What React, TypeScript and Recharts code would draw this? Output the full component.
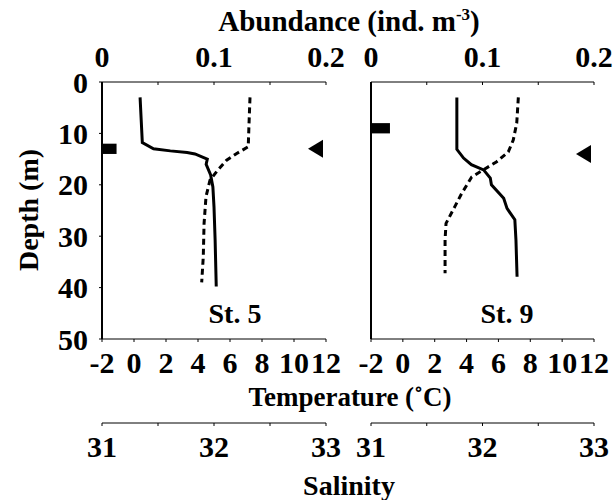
import React from "react"
import { ComposedChart, Scatter, XAxis, YAxis, ReferenceArea } from "recharts"

// St. 5 profiles
const st5TempDepth = [3, 8, 12.6, 13.9, 15.2, 17.4, 19.1, 22.3, 27.5, 34, 39]
const st5Temp = [7.25, 7.19, 7.14, 6.42, 5.79, 5.17, 4.75, 4.5, 4.38, 4.33, 4.23]
const st5SalDepth = [3, 7.4, 11.8, 13.0, 13.4, 13.7, 14.0, 15.0, 16.0, 18.1, 20.4, 24.3, 30.7, 39.8]
const st5Sal = [31.34, 31.35, 31.36, 31.46, 31.61, 31.76, 31.83, 31.94, 31.93, 31.97, 31.99, 32.0, 32.01, 32.02]

// St. 9 profiles
const st9TempDepth = [3, 8, 11.3, 13.6, 15.5, 17.1, 18.5, 21.7, 24.2, 27.5, 30.7, 37.2]
const st9Temp = [7.25, 7.15, 6.93, 6.62, 5.89, 5.05, 4.32, 3.69, 3.27, 2.71, 2.65, 2.65]
const st9SalDepth = [3, 8, 13.1, 14.8, 16.1, 17.1, 18.7, 20.0, 22.6, 24.6, 26.8, 30.7, 37.9]
const st9Sal = [31.77, 31.77, 31.77, 31.83, 31.9, 32.01, 32.07, 32.08, 32.19, 32.22, 32.29, 32.3, 32.31]

// abundance by depth layer, and thermocline depth (triangle)
const stations = ["St. 5", "St. 9"]
const abundance = [0.013, 0.017]
const layerTop = [12, 8]
const layerBottom = [14, 10]
const clineDepth = [13, 14]

const depthTicks = [0, 10, 20, 30, 40, 50]
const tempTicks = [-2, 0, 2, 4, 6, 8, 10, 12]
const salTicks = [31, 31.5, 32, 32.5, 33]
const abTicks = [0, 0.05, 0.1, 0.15, 0.2]

const FONT = "Liberation Serif, 'Times New Roman', serif"
const tickFont = { fill: "#000", fontSize: 30, fontWeight: 700, fontFamily: FONT }

const toPoints = (depths: number[], vals: number[], key: string) =>
  depths.map((d, i) => ({ depth: d, [key]: vals[i] }))

const noDot = () => <g />

const Triangle = (props: any) => {
  const { cx, cy } = props
  return <polygon points={`${cx - 18},${cy} ${cx - 3},${cy - 9} ${cx - 3},${cy + 9}`} fill="#000" />
}

type PanelProps = {
  idx: number
  temp: any[]
  sal: any[]
  showDepthLabels: boolean
  left: number
  width: number
  yAxisWidth: number
  marginLeft: number
  marginRight: number
}

const Panel = (p: PanelProps) => (
  <div style={{ position: "absolute", left: p.left, top: 0 }}>
    <ComposedChart
      width={p.width}
      height={463}
      margin={{ top: 0, right: p.marginRight, bottom: 0, left: p.marginLeft }}
    >
      <XAxis
        xAxisId={0}
        orientation="top"
        type="number"
        dataKey="ab"
        domain={[0, 0.2]}
        allowDataOverflow
        ticks={abTicks}
        interval={0}
        tickFormatter={(v: number) => (v === 0.05 || v === 0.15 ? "" : String(v))}
        height={82}
        tickSize={-3}
        tickMargin={18}
        tick={tickFont}
        axisLine={{ stroke: "#000" }}
        tickLine={{ stroke: "#000" }}
      />
      <XAxis
        xAxisId={1}
        orientation="bottom"
        type="number"
        dataKey="temp"
        domain={[-2, 12]}
        allowDataOverflow
        ticks={tempTicks}
        interval={0}
        height={84}
        tickSize={3}
        tickMargin={10}
        tick={tickFont}
        axisLine={{ stroke: "#000" }}
        tickLine={{ stroke: "#000" }}
      />
      <XAxis
        xAxisId={2}
        orientation="bottom"
        type="number"
        dataKey="sal"
        domain={[31, 33]}
        allowDataOverflow
        ticks={salTicks}
        interval={0}
        tickFormatter={(v: number) => (Number.isInteger(v) ? String(v) : "")}
        height={40}
        tickSize={3}
        tickMargin={10}
        tick={tickFont}
        axisLine={{ stroke: "#000" }}
        tickLine={{ stroke: "#000" }}
      />
      <YAxis
        type="number"
        dataKey="depth"
        domain={[0, 50]}
        allowDataOverflow
        ticks={depthTicks}
        interval={0}
        reversed
        width={p.yAxisWidth}
        tickSize={3}
        tickMargin={11}
        tick={p.showDepthLabels ? tickFont : false}
        axisLine={{ stroke: "#000", strokeWidth: 2 }}
        tickLine={{ stroke: "#000" }}
      />
      {/* abundance layer bar, with the axis fed through an invisible series */}
      <Scatter
        xAxisId={0}
        data={[
          { ab: 0, depth: layerTop[p.idx] },
          { ab: abundance[p.idx], depth: layerBottom[p.idx] },
        ]}
        fill="none"
        shape={noDot}
        isAnimationActive={false}
      />
      <ReferenceArea
        xAxisId={0}
        x1={0}
        x2={abundance[p.idx]}
        y1={layerTop[p.idx]}
        y2={layerBottom[p.idx]}
        fill="#000"
        fillOpacity={1}
        stroke="none"
      />
      <Scatter
        xAxisId={2}
        data={p.sal}
        fill="#000"
        line={{ stroke: "#000", strokeWidth: 3 }}
        shape={noDot}
        isAnimationActive={false}
      />
      <Scatter
        xAxisId={1}
        data={p.temp}
        fill="#000"
        line={{ stroke: "#000", strokeWidth: 3, strokeDasharray: "6 4" }}
        shape={noDot}
        isAnimationActive={false}
      />
      <Scatter
        xAxisId={1}
        data={[{ temp: 12, depth: clineDepth[p.idx] }]}
        fill="#000"
        shape={Triangle}
        isAnimationActive={false}
      />
    </ComposedChart>
  </div>
)

export default function App() {
  return (
    <div style={{ position: "absolute", left: 0, top: 0, width: 615, height: 500, background: "#fff" }}>
      <Panel
        idx={0}
        temp={toPoints(st5TempDepth, st5Temp, "temp")}
        sal={toPoints(st5SalDepth, st5Sal, "sal")}
        showDepthLabels
        left={0}
        width={360}
        yAxisWidth={62}
        marginLeft={40}
        marginRight={34}
      />
      <Panel
        idx={1}
        temp={toPoints(st9TempDepth, st9Temp, "temp")}
        sal={toPoints(st9SalDepth, st9Sal, "sal")}
        showDepthLabels={false}
        left={330}
        width={285}
        yAxisWidth={41}
        marginLeft={0}
        marginRight={21}
      />
      <svg
        width={615}
        height={500}
        style={{ position: "absolute", left: 0, top: 0, pointerEvents: "none" }}
        fontFamily={FONT}
        fontWeight={700}
        fontSize={28}
        fill="#000"
      >
        <text x={349} y={31} textAnchor="middle" fontSize={29}>
          Abundance (ind. m<tspan fontSize={17} dy={-11}>-3</tspan>
          <tspan dy={11}>)</tspan>
        </text>
        <text x={350} y={406} textAnchor="middle" fontSize={27}>Temperature (˚C)</text>
        <text x={349} y={495} textAnchor="middle">Salinity</text>
        <text x={38} y={210} textAnchor="middle" transform="rotate(-90 38 210)">Depth (m)</text>
        <text x={235} y={323} textAnchor="middle">{stations[0]}</text>
        <text x={507} y={323} textAnchor="middle">{stations[1]}</text>
      </svg>
    </div>
  )
}
